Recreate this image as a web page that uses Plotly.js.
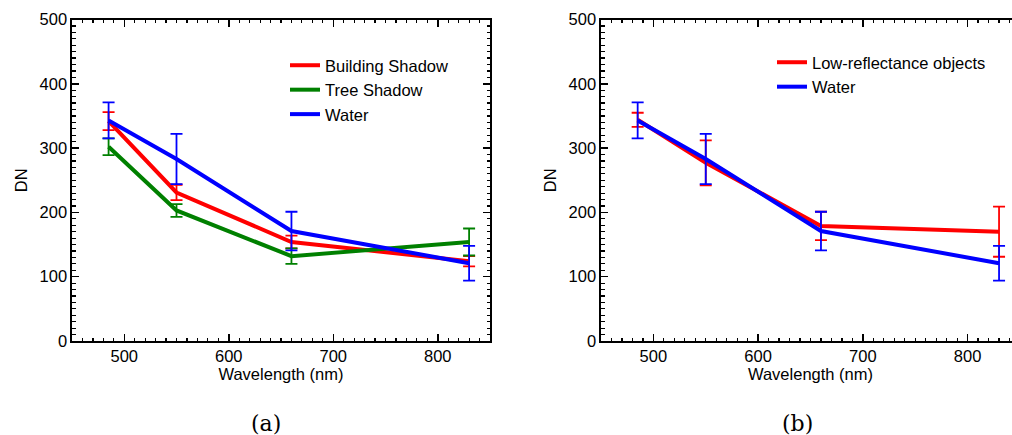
<!DOCTYPE html>
<html>
<head>
<meta charset="utf-8">
<script src="https://cdn.plot.ly/plotly-3.0.1.min.js"></script>
<style>
html, body { margin: 0; padding: 0; background: #fff; overflow: hidden; width: 1012px; height: 435px; }
#chart { width: 1022px; height: 435px; }
</style>
</head>
<body>
<div id="chart"></div>
<script>
// Wavelengths (nm)
const wavelength = [485, 550, 660, 830];

// Panel (a)
const buildingShadow = [342, 231, 154, 124];
const buildingShadowErr = [14, 12, 10, 8];
const treeShadow = [302, 203, 132, 154];
const treeShadowErr = [13, 10, 12, 21];
const waterA = [343, 283, 171, 121];
const waterAErr = [28, 39, 30, 27];

// Panel (b)
const lowReflectance = [344, 277, 179, 170];
const lowReflectanceErr = [11, 35, 22, 39];
const waterB = [343, 283, 171, 121];
const waterBErr = [28, 39, 30, 27];

const W = 1022, H = 435;

function tr(name, y, err, color, xa, ya, leg) {
  return {
    x: wavelength, y: y, name: name, type: 'scatter', mode: 'lines',
    xaxis: xa, yaxis: ya, legend: leg,
    line: { color: color, width: 4 },
    error_y: { type: 'data', array: err, visible: true, color: color, thickness: 1.8, width: 6 }
  };
}

const data = [
  tr('Building Shadow', buildingShadow, buildingShadowErr, '#ff0000', 'x', 'y', 'legend'),
  tr('Tree Shadow', treeShadow, treeShadowErr, '#008000', 'x', 'y', 'legend'),
  tr('Water', waterA, waterAErr, '#0000ff', 'x', 'y', 'legend'),
  tr('Low-reflectance objects', lowReflectance, lowReflectanceErr, '#ff0000', 'x2', 'y2', 'legend2'),
  tr('Water', waterB, waterBErr, '#0000ff', 'x2', 'y2', 'legend2')
];

const tickFont = { family: 'Liberation Sans, Arial, sans-serif', size: 16.5, color: '#000' };

function xax(domain, anchor) {
  return {
    domain: domain, anchor: anchor, range: [450, 850], dtick: 100, tick0: 0,
    ticks: 'inside', ticklen: 7, tickwidth: 1.5, tickcolor: '#000',
    minor: { dtick: 10, ticks: 'inside', ticklen: 3.5, tickwidth: 1.2, tickcolor: '#000' },
    showline: true, linecolor: '#000', linewidth: 1.6, mirror: 'ticks',
    showgrid: false, zeroline: false, tickfont: tickFont,
    title: { text: 'Wavelength (nm)', font: tickFont, standoff: 0 }
  };
}
function yax(domain, anchor) {
  return {
    domain: domain, anchor: anchor, range: [0, 500], dtick: 100,
    ticks: 'inside', ticklen: 7, tickwidth: 1.5, tickcolor: '#000',
    minor: { dtick: 10, ticks: 'inside', ticklen: 3.5, tickwidth: 1.2, tickcolor: '#000' },
    showline: true, linecolor: '#000', linewidth: 1.6, mirror: 'ticks',
    showgrid: false, zeroline: false, tickfont: tickFont,
    title: { text: 'DN', font: tickFont, standoff: 8 }
  };
}

const yDom = [1 - 341 / H, 1 - 19.5 / H];

const layout = {
  width: W, height: H,
  margin: { l: 0, r: 0, t: 0, b: 0 },
  paper_bgcolor: '#fff', plot_bgcolor: '#fff',
  showlegend: true,
  xaxis: xax([72 / W, 490 / W], 'y'),
  yaxis: yax(yDom, 'x'),
  xaxis2: xax([601 / W, 1020 / W], 'y2'),
  yaxis2: yax(yDom, 'x2'),
  legend: {
    x: 285 / W, y: 1 - 48 / H, xanchor: 'left', yanchor: 'top',
    bgcolor: 'rgba(0,0,0,0)', borderwidth: 0, font: tickFont, tracegroupgap: 0
  },
  legend2: {
    x: 772 / W, y: 1 - 45 / H, xanchor: 'left', yanchor: 'top',
    bgcolor: 'rgba(0,0,0,0)', borderwidth: 0, font: tickFont, tracegroupgap: 0
  },
  annotations: [
    { text: '(a)', xref: 'paper', yref: 'paper', x: 266 / W, y: 1 - 423 / H, xanchor: 'center', yanchor: 'middle', showarrow: false,
      font: { family: 'DejaVu Serif, Liberation Serif, serif', size: 22, color: '#000' } },
    { text: '(b)', xref: 'paper', yref: 'paper', x: 797 / W, y: 1 - 423 / H, xanchor: 'center', yanchor: 'middle', showarrow: false,
      font: { family: 'DejaVu Serif, Liberation Serif, serif', size: 22, color: '#000' } }
  ]
};

Plotly.newPlot('chart', data, layout, { displayModeBar: false, staticPlot: true });
</script>
</body>
</html>
